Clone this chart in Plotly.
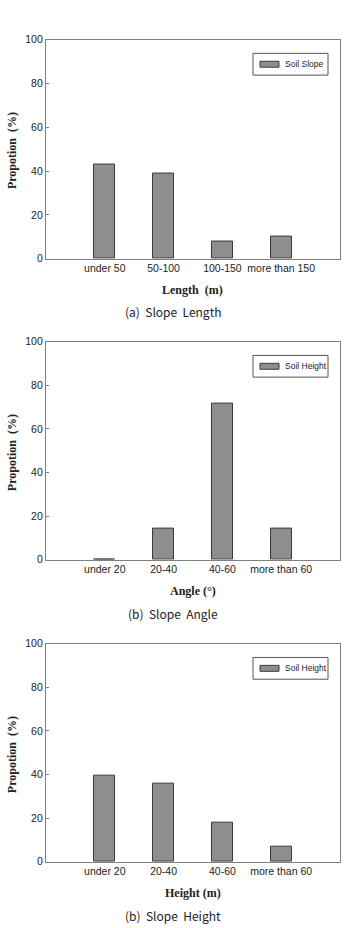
import plotly.graph_objects as go

W, H = 345, 928

cats_length = ["under 50", "50-100", "100-150", "more than 150"]
vals_length = [43, 39, 8, 10]

cats_angle = ["under 20", "20-40", "40-60", "more than 60"]
vals_angle = [0, 14.3, 71.4, 14.3]

cats_height = ["under 20", "20-40", "40-60", "more than 60"]
vals_height = [39.3, 35.7, 17.9, 7.1]

legend_names = ["Soil Slope", "Soil Height", "Soil Height"]
x_titles = ["Length  (m)", "Angle (°)", "Height (m)"]
captions = ["(a)  Slope  Length", "(b)  Slope  Angle", "(b)  Slope  Height"]
y_title = "Propotion  (%)"
y_ticks = [0, 20, 40, 60, 80, 100]

panels = [(cats_length, vals_length), (cats_angle, vals_angle), (cats_height, vals_height)]
# pixel layout (top, bottom) of each plot area
py = [(34, 256), (340, 561), (646, 867)]
px_left, px_right = 46, 340

def fy(p):
    return 1 - p / H

def fx(p):
    return p / W

fig = go.Figure()
annotations = []
shapes = []
for i, (cats, vals) in enumerate(panels):
    n = i + 1
    xa = "x" if n == 1 else f"x{n}"
    ya = "y" if n == 1 else f"y{n}"
    fig.add_trace(go.Bar(
        x=list(range(len(cats))), y=vals, width=0.36,
        marker=dict(color="#8e8e8e", line=dict(color="#3a3a3a", width=1)),
        xaxis=xa, yaxis=ya, showlegend=False, name=legend_names[i],
    ))
    top, bot = py[i]
    axis_common = dict(showline=True, linecolor="#808080", linewidth=1.2, mirror=True,
                       showgrid=False, zeroline=False)
    fig.update_layout(**{
        ("xaxis" if n == 1 else f"xaxis{n}"): dict(
            domain=[fx(px_left), fx(px_right)], anchor=ya, range=[-1, 4],
            tickmode="array", tickvals=list(range(len(cats))), ticktext=cats,
            ticks="", tickfont=dict(family="Liberation Sans, Arial", size=10.5, color="#222"),
            **axis_common),
        ("yaxis" if n == 1 else f"yaxis{n}"): dict(
            domain=[fy(bot), fy(top)], anchor=xa, range=[0, 100],
            tickvals=y_ticks, ticks="inside", ticklen=3, tickcolor="#808080",
            tickfont=dict(family="Liberation Sans, Arial", size=10.5, color="#222"),
            **axis_common),
    })
    # legend box
    lx0, lx1 = 253, 328
    ly0, ly1 = top + 14, top + 36
    shapes.append(dict(type="rect", xref="paper", yref="paper",
                       x0=fx(lx0), x1=fx(lx1), y0=fy(ly1), y1=fy(ly0),
                       line=dict(color="#555", width=1), fillcolor="white"))
    my = (ly0 + ly1) / 2
    shapes.append(dict(type="rect", xref="paper", yref="paper",
                       x0=fx(260), x1=fx(279), y0=fy(my + 3), y1=fy(my - 3),
                       line=dict(color="#3a3a3a", width=1), fillcolor="#8e8e8e"))
    annotations.append(dict(text=legend_names[i], xref="paper", yref="paper",
                            x=fx(283), y=fy(my), xanchor="left", yanchor="middle",
                            showarrow=False, font=dict(family="Liberation Sans, Arial", size=8.5, color="#222")))
    # x title
    annotations.append(dict(text=f"<b>{x_titles[i]}</b>", xref="paper", yref="paper",
                            x=fx(193), y=fy(bot + 32), xanchor="center", yanchor="middle",
                            showarrow=False, font=dict(family="Liberation Serif, Times New Roman", size=12, color="#222")))
    # caption
    annotations.append(dict(text=captions[i], xref="paper", yref="paper",
                            x=fx(173), y=fy(bot + 54), xanchor="center", yanchor="middle",
                            showarrow=False, font=dict(family="Noto Sans CJK KR, DejaVu Sans", size=12, color="#222")))
    # y title
    annotations.append(dict(text=f"<b>{y_title}</b>", xref="paper", yref="paper",
                            x=fx(12), y=fy(top + 113), xanchor="center", yanchor="middle", textangle=-90,
                            showarrow=False, font=dict(family="Liberation Serif, Times New Roman", size=12, color="#222")))

fig.update_layout(width=W, height=H, margin=dict(l=0, r=0, t=0, b=0),
                  paper_bgcolor="white", plot_bgcolor="white",
                  annotations=annotations, shapes=shapes, bargap=0)
fig.write_html("out.html")
